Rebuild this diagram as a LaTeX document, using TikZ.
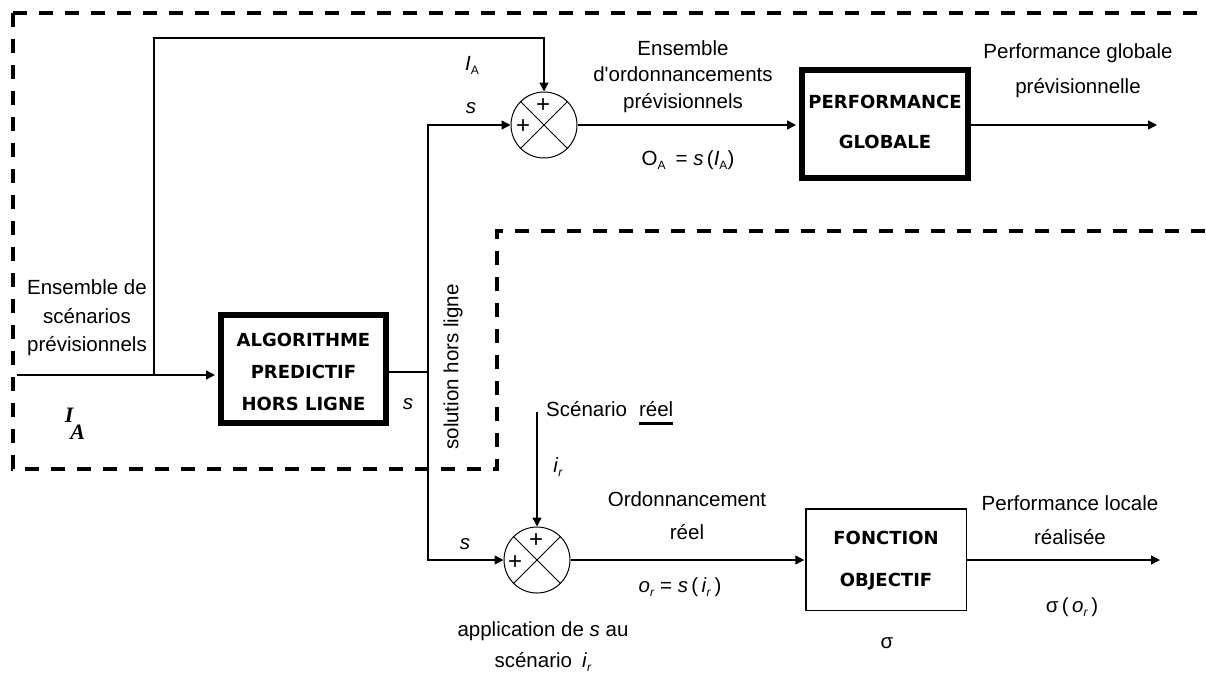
\documentclass[tikz,border=0pt]{standalone}
\usepackage{fontspec}
\setmainfont{Liberation Sans}
\newfontfamily\boxfont{DejaVu Sans}
\newfontfamily\serfont{Liberation Serif}
\usetikzlibrary{arrows.meta,calc}
\newsavebox\myulbox
\newcommand{\myul}[1]{\sbox\myulbox{#1}\makebox[0pt][l]{\rule[-9pt]{\wd\myulbox}{3pt}}\usebox\myulbox}
\newcommand{\mysub}[1]{\raisebox{-4pt}{\fontsize{12}{12}\selectfont #1}}
\begin{document}
\begin{tikzpicture}[x=1pt,y=-1pt,
  conn/.style={line width=1.4pt},
  arr/.style={conn,-{Triangle[length=9pt,width=9pt]}},
  border/.style={line width=3.5pt,dash pattern=on 14pt off 12pt},
  boxtxt/.style={align=center,inner sep=0pt,font=\boxfont\bfseries\fontsize{18}{#1}\selectfont},
  thickbox/.style={draw,line width=6pt},
  sumnode/.style={draw,circle,line width=1pt,minimum size=66pt,inner sep=0pt},
  plus/.style={inner sep=0pt,font=\fontsize{24}{24}\selectfont},
  lbl/.style={inner sep=0pt,align=center,font=\fontsize{20.5}{#1}\selectfont},
  lbl/.default=28
]
\useasboundingbox (0,0) rectangle (1206,678);
\fill[white] (0,0) rectangle (1206,678);

% dashed borders
\draw[border] (13,13) -- (1206,13);
\draw[border] (13,13) -- (13,469) -- (497,469) -- (497,231) -- (1206,231);

% blocks
\node[thickbox,minimum width=165pt,minimum height=108pt,inner sep=0pt] (algo) at (303.5,369) {};
\node[boxtxt=32] (algotxt) at (303.5,372) {ALGORITHME\\PREDICTIF\\HORS LIGNE};
\node[thickbox,minimum width=166pt,minimum height=108pt,inner sep=0pt] (perf) at (885,124) {};
\node[boxtxt=40] (perftxt) at (885,122) {PERFORMANCE\\GLOBALE};
\node[draw,line width=1.5pt,minimum width=160.5pt,minimum height=101.5pt,inner sep=0pt] (fonc) at (886,559.5) {};
\node[boxtxt=42] (fonctxt) at (886,561) {FONCTION\\OBJECTIF};

% summing junctions
\node[sumnode] (sum1) at (544,125) {};
\draw[line width=1pt] (sum1.north east) -- (sum1.south west) (sum1.north west) -- (sum1.south east);
\node[plus] (p1t) at ($(sum1)+(-1,-19)$) {+};
\node[plus] (p1l) at ($(sum1)+(-21,2)$) {+};
\node[sumnode] (sum2) at (537,560) {};
\draw[line width=1pt] (sum2.north east) -- (sum2.south west) (sum2.north west) -- (sum2.south east);
\node[plus] (p2t) at ($(sum2)+(-1,-19)$) {+};
\node[plus] (p2l) at ($(sum2)+(-22,3)$) {+};

% coordinates
\coordinate (in) at (17,375);
\coordinate (br) at (154,375);
\coordinate (fb) at (544,38);
\coordinate (j) at (428,372);
\coordinate (out1) at (1157,125);
\coordinate (sc) at (537,412);
\coordinate (out2) at (1160,560);

% connectors
\draw[arr,shorten >=3pt] (in) -- (in -| algo.west);
\draw[arr] (br) |- (fb) -- (sum1.north);
\draw[conn] (algo.east |- j) -- (j);
\draw[arr] (j) |- (sum1.west);
\draw[arr] (j) |- (sum2.west);
\draw[arr,shorten >=3pt] (sum1.east) -- (sum1.east -| perf.west);
\draw[arr] (sum1.east -| perf.east) -- (out1);
\draw[arr] (sc) -- (sum2.north);
\draw[arr,shorten >=0.75pt] (sum2.east) -- (sum2.east -| fonc.west);
\draw[arr] (sum2.east -| fonc.east) -- (out2);

% labels
\node[lbl=26.5] (lEnsT) at (683,76.5) {Ensemble\\d\textquotesingle ordonnancements\\prévisionnels};
\node[lbl] (lOA) at (688,160) {O\mysub{A}\hspace{10pt}= \textit{s}\,(\textit{I}\mysub{A})};
\node[lbl] (lIA) at (472,65) {\textit{I}\mysub{A}};
\node[lbl] (ls1) at (471,108) {\textit{s}};
\node[lbl=35] (lPG) at (1078,70.5) {Performance globale\\prévisionnelle};
\node[lbl=28.5] (lEnsL) at (87,318) {Ensemble de\\scénarios\\prévisionnels};
\node[inner sep=0pt,font=\serfont\bfseries\itshape\fontsize{22}{22}\selectfont] (lIAbig) at (75,424) {I\kern-3pt\raisebox{-17pt}{A}};
\node[lbl] (ls2) at (408,404) {\textit{s}};
\node[lbl,rotate=90] (lsol) at (453,367) {solution hors ligne};
\node[lbl,anchor=west] (lsc) at (546,413) {Scénario\hspace{12pt}\myul{réel}};
\node[lbl] (lir) at (558,467) {\textit{i}\mysub{\textit{r}}};
\node[lbl] (ls3) at (465,544) {\textit{s}};
\node[lbl=33] (lOrd) at (687,516) {Ordonnancement\\réel};
\node[lbl] (lor) at (680,587) {\textit{o}\mysub{\textit{r}} = \textit{s}\,(\,\textit{i}\mysub{\textit{r}}\,)};
\node[lbl=31] (lapp) at (543,647) {application de \textit{s} au\\scénario\hspace{10pt}\textit{i}\mysub{\textit{r}}};
\node[lbl] (lsig) at (887,643) {σ};
\node[lbl=34] (lPL) at (1070,520) {Performance locale\\réalisée};
\node[lbl] (lsigor) at (1072,607) {σ\,(\,\textit{o}\mysub{\textit{r}}\,)};
\end{tikzpicture}
\end{document}
